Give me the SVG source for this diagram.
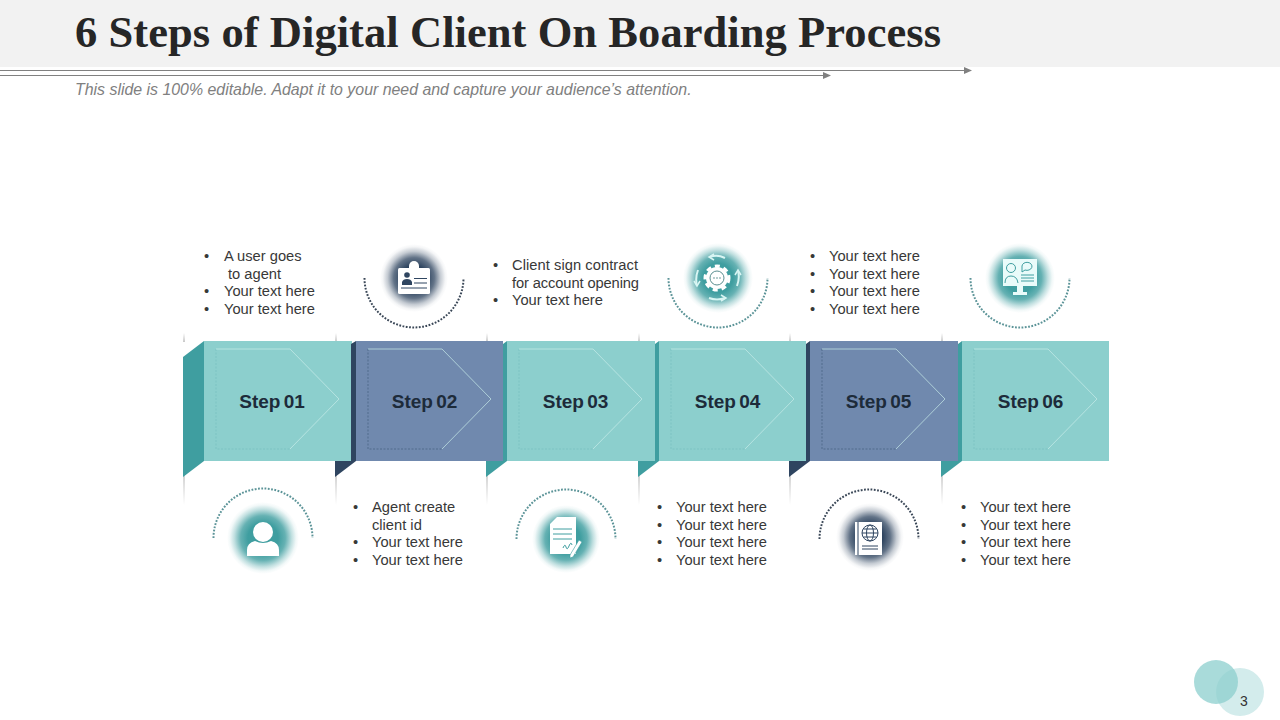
<svg xmlns="http://www.w3.org/2000/svg" width="1280" height="720" viewBox="0 0 1280 720">
<style>
text{font-family:"Liberation Sans",Arial,sans-serif}
.title{font-family:"Liberation Serif","Times New Roman",serif;font-weight:700;font-size:44.500px;fill:#262626}
.sub{font-style:italic;font-size:15.900px;fill:#808080}
.t{font-size:14.700px;fill:#383838}
.step{font-size:19px;font-weight:700;text-anchor:middle;fill:#1d2b3a;word-spacing:-2px}
.teal{fill:#8ccfcd}.blue{fill:#7089ae}.ft{fill:#3f9ea0}.fd{fill:#2f4560}
.sh{fill:none;stroke:#c9ecea;stroke-width:.7}
.dt{fill:none;stroke:#74bcbc;stroke-width:.6;stroke-dasharray:2 1.500}
.dd{fill:none;stroke:#3d5777;stroke-width:.6;stroke-dasharray:2 1.500}
.arcT{fill:none;stroke:#5c9498;stroke-width:2;stroke-dasharray:1.800 1.500}
.arcD{fill:none;stroke:#3a4757;stroke-width:2;stroke-dasharray:1.800 1.500}
.w{fill:#fff}
.ln{stroke:#808080;stroke-width:1.200;fill:none}
</style>
<defs>
<radialGradient id="gt"><stop offset="0" stop-color="#3f9ea0"/><stop offset=".42" stop-color="#3f9ea0"/><stop offset=".62" stop-color="#3f9ea0" stop-opacity=".8"/><stop offset=".8" stop-color="#3f9ea0" stop-opacity=".32"/><stop offset=".92" stop-color="#3f9ea0" stop-opacity=".07"/><stop offset="1" stop-color="#3f9ea0" stop-opacity="0"/></radialGradient>
<radialGradient id="gd"><stop offset="0" stop-color="#2f4560"/><stop offset=".38" stop-color="#2f4560"/><stop offset=".6" stop-color="#2f4560" stop-opacity=".75"/><stop offset=".78" stop-color="#2f4560" stop-opacity=".28"/><stop offset=".92" stop-color="#2f4560" stop-opacity=".05"/><stop offset="1" stop-color="#2f4560" stop-opacity="0"/></radialGradient>
<linearGradient id="vd" x1="0" y1="0" x2="0" y2="1"><stop offset="0" stop-color="#bdbdbd"/><stop offset="1" stop-color="#bdbdbd" stop-opacity="0"/></linearGradient>
<linearGradient id="vu" x1="0" y1="1" x2="0" y2="0"><stop offset="0" stop-color="#c8c8c8"/><stop offset="1" stop-color="#c8c8c8" stop-opacity="0"/></linearGradient>
<marker id="ah" markerUnits="userSpaceOnUse" markerWidth="8" markerHeight="8" refX="7" refY="4" orient="auto"><path d="M0 .5L8 4L0 7.500Z" fill="#808080"/></marker>
</defs>
<rect width="1280" height="720" fill="#fff"/>
<g id="header">
<rect width="1280" height="67" fill="#f2f2f2"/>
<text class="title" x="75" y="47" textLength="866">6 Steps of Digital Client On Boarding Process</text>
<text class="sub" x="75" y="94.500">This slide is 100% editable. Adapt it to your need and capture your audience’s attention.</text>
</g>
<g id="connectors">
<path class="ln" d="M0 70.500H971" marker-end="url(#ah)"/>
<path class="ln" d="M0 75.500H830" marker-end="url(#ah)"/>
<g id="ticks">
<rect x="183" y="333" width="2" height="9" fill="url(#vu)"/><rect x="183" y="461" width="2" height="44" fill="url(#vd)"/>
<rect x="335" y="333" width="2" height="9" fill="url(#vu)"/><rect x="335" y="461" width="2" height="44" fill="url(#vd)"/>
<rect x="486" y="333" width="2" height="9" fill="url(#vu)"/><rect x="486" y="461" width="2" height="44" fill="url(#vd)"/>
<rect x="638" y="333" width="2" height="9" fill="url(#vu)"/><rect x="638" y="461" width="2" height="44" fill="url(#vd)"/>
<rect x="789" y="333" width="2" height="9" fill="url(#vu)"/><rect x="789" y="461" width="2" height="44" fill="url(#vd)"/>
<rect x="941" y="333" width="2" height="9" fill="url(#vu)"/><rect x="941" y="461" width="2" height="44" fill="url(#vd)"/>
</g>
</g>

<g id="step-01">
<path class="ft" d="M183 357L204 341V461L183 477Z"/>
<rect class="teal" x="204" y="341" width="148" height="120"/>
<path class="dt" d="M216 349V449H290"/><path class="sh" d="M216 349H290L339 399L290 449"/>
<text class="step" x="272" y="407.500">Step 01</text>
</g>
<g id="step-02">
<path class="fd" d="M351 344L356 341V461L335 477V461H351Z"/>
<rect class="blue" x="356" y="341" width="147" height="120"/>
<path class="dd" d="M368 349V449H442"/><path class="sh" d="M368 349H442L491 399L442 449"/>
<text class="step" x="424.500" y="407.500">Step 02</text>
</g>
<g id="step-03">
<path class="ft" d="M503 344L507 341V461L486 477V461H503Z"/>
<rect class="teal" x="507" y="341" width="148" height="120"/>
<path class="dt" d="M519 349V449H593"/><path class="sh" d="M519 349H593L642 399L593 449"/>
<text class="step" x="575.500" y="407.500">Step 03</text>
</g>
<g id="step-04">
<path class="ft" d="M655 344L659 341V461L638 477V461H655Z"/>
<rect class="teal" x="659" y="341" width="147" height="120"/>
<path class="dt" d="M671 349V449H745"/><path class="sh" d="M671 349H745L794 399L745 449"/>
<text class="step" x="727.500" y="407.500">Step 04</text>
</g>
<g id="step-05">
<path class="fd" d="M806 344L810 341V461L789 477V461H806Z"/>
<rect class="blue" x="810" y="341" width="148" height="120"/>
<path class="dd" d="M822 349V449H896"/><path class="sh" d="M822 349H896L945 399L896 449"/>
<text class="step" x="878.500" y="407.500">Step 05</text>
</g>
<g id="step-06">
<path class="ft" d="M958 344L962 341V461L941 477V461H958Z"/>
<rect class="teal" x="962" y="341" width="147" height="120"/>
<path class="dt" d="M974 349V449H1048"/><path class="sh" d="M974 349H1048L1097 399L1048 449"/>
<text class="step" x="1030.500" y="407.500">Step 06</text>
</g>

<g id="text-01">
<text class="t" x="204" y="261">•</text><text class="t" x="224" y="261">A user goes</text>
<text class="t" x="228" y="279">to agent</text>
<text class="t" x="204" y="296">•</text><text class="t" x="224" y="296">Your text here</text>
<text class="t" x="204" y="314">•</text><text class="t" x="224" y="314">Your text here</text>
</g>
<g id="text-02">
<text class="t" x="353" y="512">•</text><text class="t" x="372" y="512">Agent create</text>
<text class="t" x="372" y="530">client id</text>
<text class="t" x="353" y="547">•</text><text class="t" x="372" y="547">Your text here</text>
<text class="t" x="353" y="565">•</text><text class="t" x="372" y="565">Your text here</text>
</g>
<g id="text-03">
<text class="t" x="493" y="270">•</text><text class="t" x="512" y="270" textLength="126">Client sign contract</text>
<text class="t" x="512" y="288" textLength="127">for account opening</text>
<text class="t" x="493" y="305">•</text><text class="t" x="512" y="305">Your text here</text>
</g>
<g id="text-04">
<text class="t" x="657" y="512">•</text><text class="t" x="676" y="512">Your text here</text>
<text class="t" x="657" y="530">•</text><text class="t" x="676" y="530">Your text here</text>
<text class="t" x="657" y="547">•</text><text class="t" x="676" y="547">Your text here</text>
<text class="t" x="657" y="565">•</text><text class="t" x="676" y="565">Your text here</text>
</g>
<g id="text-05">
<text class="t" x="810" y="261">•</text><text class="t" x="829" y="261">Your text here</text>
<text class="t" x="810" y="279">•</text><text class="t" x="829" y="279">Your text here</text>
<text class="t" x="810" y="296">•</text><text class="t" x="829" y="296">Your text here</text>
<text class="t" x="810" y="314">•</text><text class="t" x="829" y="314">Your text here</text>
</g>
<g id="text-06">
<text class="t" x="961" y="512">•</text><text class="t" x="980" y="512">Your text here</text>
<text class="t" x="961" y="530">•</text><text class="t" x="980" y="530">Your text here</text>
<text class="t" x="961" y="547">•</text><text class="t" x="980" y="547">Your text here</text>
<text class="t" x="961" y="565">•</text><text class="t" x="980" y="565">Your text here</text>
</g>

<g id="icon-user">
<path class="arcT" d="M213.500 538A49.500 49.500 0 0 1 312.500 538"/>
<circle cx="263" cy="538" r="36" fill="url(#gt)"/>
<circle class="w" cx="263" cy="532" r="10"/>
<path class="w" d="M247 556V550Q247 543 255 541Q263 545 271 541Q279 543 279 550V556Z"/>
</g>
<g id="icon-id">
<path class="arcD" d="M364.500 278A49.500 49.500 0 0 0 463.500 278"/>
<circle cx="414" cy="278" r="34" fill="url(#gd)"/>
<path class="w" d="M409 269V266A5 5 0 0 1 419 266V269Z"/>
<rect class="w" x="398" y="268" width="32" height="26" rx="1.500"/>
<circle class="fd" cx="407" cy="275" r="2.800"/>
<path class="fd" d="M402 285V282Q403 279 407 279Q411 279 412 282V285Z"/>
<path d="M414 278.500H427M414 283H427M401 288H427" stroke="#2f4560" stroke-width="1"/>
</g>
<g id="icon-doc">
<path class="arcT" d="M516.500 539A49.500 49.500 0 0 1 615.500 539"/>
<circle cx="566" cy="539" r="34" fill="url(#gt)"/>
<path class="w" d="M557 517H576V554H550V524Z"/>
<path d="M553 529H572M553 534H572M553 539H572" stroke="#3f9ea0" stroke-width="1"/>
<path d="M563 548q2-5 3-1t3-1t3-1" fill="none" stroke="#3f9ea0" stroke-width="1"/>
<path d="M579 540L582 542L573 557L570 558L570 555Z" fill="#fff" stroke="#3f9ea0" stroke-width=".6"/>
</g>
<g id="icon-gear">
<path class="arcT" d="M668.500 278A49.500 49.500 0 0 0 767.500 278"/>
<circle cx="718" cy="278" r="35" fill="url(#gt)"/>
<circle class="w" cx="717" cy="278" r="11"/>
<circle cx="717" cy="278" r="12" fill="none" stroke="#fff" stroke-width="3" stroke-dasharray="5 4"/>
<circle cx="717" cy="278" r="7" fill="#fff" stroke="#5b8f90" stroke-width="1"/>
<circle cx="714" cy="278" r=".8" fill="#5b8f90"/><circle cx="717" cy="278" r=".8" fill="#5b8f90"/><circle cx="720" cy="278" r=".8" fill="#5b8f90"/>
<path d="M710 257Q717 254 725 258M738 271Q740 278 737 286M725 298Q717 301 709 298M697 286Q695 278 698 270" fill="none" stroke="#d8f5f3" stroke-width="2"/>
<path d="M714 254L709 257L714 260M741 275L738 270L735 275M721 301L726 298L721 295M694 281L697 286L700 281" fill="none" stroke="#d8f5f3" stroke-width="1.500"/>
</g>
<g id="icon-passport">
<path class="arcD" d="M819.500 539A49.500 49.500 0 0 1 918.500 539"/>
<circle cx="870" cy="537" r="34" fill="url(#gd)"/>
<rect class="w" x="855" y="522" width="27" height="33"/>
<path d="M858 522V555" stroke="#2f4560" stroke-width="1"/>
<g fill="none" stroke="#2f4560" stroke-width="1"><circle cx="870" cy="533" r="8"/><ellipse cx="870" cy="533" rx="3.500" ry="8"/><path d="M862 533H878M863.500 529H876.500M863.500 537H876.500M862 546H878M862 549H878"/></g>
</g>
<g id="icon-monitor">
<path class="arcT" d="M970.500 278A49.500 49.500 0 0 0 1069.500 278"/>
<circle cx="1020" cy="278" r="35" fill="url(#gt)"/>
<rect x="1003" y="259" width="34" height="27" fill="#e9fbfa"/>
<path d="M1017 286H1023V292H1027V295H1013V292H1017Z" fill="#e9fbfa"/>
<g fill="none" stroke="#3f9ea0" stroke-width="1"><circle cx="1011" cy="268" r="4.500"/><path d="M1005 283Q1005 276 1011 276Q1017 276 1018 283"/><path d="M1022 266a5 4 0 1 1 3 4l-3 2z"/><path d="M1021 275H1034M1021 278H1034M1021 281H1034"/></g>
</g>
<g id="page">
<circle cx="1240" cy="692" r="24" fill="#d3ecec"/>
<circle cx="1216" cy="682" r="22" fill="#8ccfcd" fill-opacity=".75"/>
<text x="1244" y="706" font-size="14" text-anchor="middle" fill="#333">3</text>
</g>
</svg>
